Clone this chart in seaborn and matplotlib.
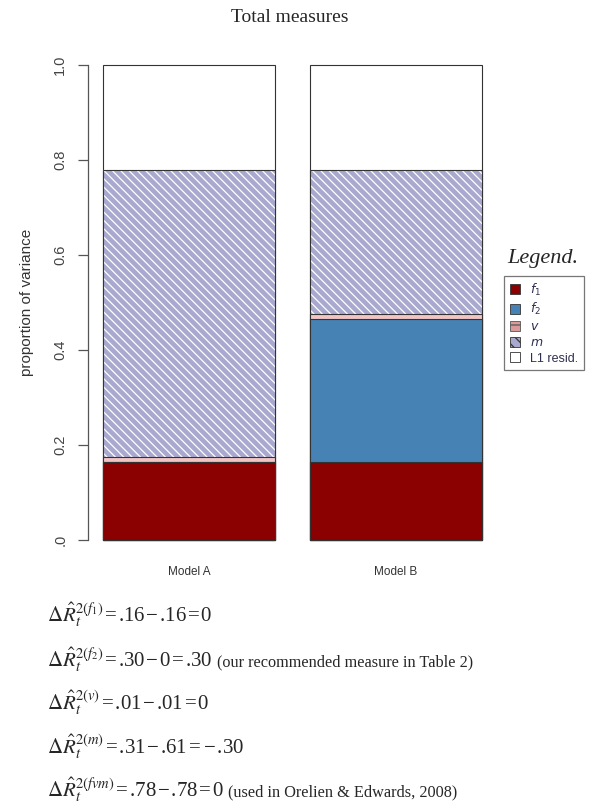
import numpy as np
import pandas as pd
import matplotlib
matplotlib.use("Agg")
import matplotlib.pyplot as plt
import seaborn as sns
from matplotlib.patches import Patch

# data
models = ["Model A", "Model B"]
f1 = [0.165, 0.165]
f2 = [0.0, 0.30]
v = [0.01, 0.01]
m = [0.605, 0.305]
resid = [0.22, 0.22]

components = ["f1", "f2", "v", "m", "resid"]
colors = {"f1": "#8b0000", "f2": "#4682b4", "v": "#f2c4c4", "m": "#a9a9cf", "resid": "white"}
legend_labels = [r"$f_1$", r"$f_2$", r"$v$", r"$m$", "L1 resid."]

equations = [
    (r"$\Delta\hat{R}_t^{2(f_1)}$", "=.16\u2212.16=0", ""),
    (r"$\Delta\hat{R}_t^{2(f_2)}$", "=.30\u22120=.30", "(our recommended measure in Table 2)"),
    (r"$\Delta\hat{R}_t^{2(v)}$", "=.01\u2212.01=0", ""),
    (r"$\Delta\hat{R}_t^{2(m)}$", "=.31\u2212.61=\u2212.30", ""),
    (r"$\Delta\hat{R}_t^{2(fvm)}$", "=.78\u2212.78=0", "(used in Orelien & Edwards, 2008)"),
]

df = pd.DataFrame({"model": models, "f1": f1, "f2": f2, "v": v, "m": m, "resid": resid})
cum = df[components].cumsum(axis=1)
df_cum = pd.concat([df[["model"]], cum], axis=1)

sns.set_style("white")
plt.rcParams["font.family"] = ["Liberation Sans", "DejaVu Sans"]
plt.rcParams["mathtext.fontset"] = "stix"
plt.rcParams["hatch.linewidth"] = 0.9

fig = plt.figure(figsize=(5.91, 8.06), dpi=100)
ax = fig.add_axes([88 / 591, 1 - 540 / 806, (490 - 88) / 591, (540 - 65) / 806])

W = 0.83
# draw cumulative layers from the top down so lower segments sit on top
for comp in components[::-1]:
    if comp == "m":
        sns.barplot(data=df_cum, x="model", y=comp, color=colors[comp], width=W,
                    edgecolor="white", linewidth=0, hatch="\\\\\\\\", ax=ax,
                    saturation=1, errorbar=None)
        sns.barplot(data=df_cum, x="model", y=comp, width=W, fill=False,
                    edgecolor="#333333", linewidth=0.8, ax=ax, errorbar=None)
    else:
        sns.barplot(data=df_cum, x="model", y=comp, color=colors[comp], width=W,
                    edgecolor="#333333", linewidth=0.8, ax=ax, saturation=1,
                    errorbar=None)

for p in ax.patches:
    p.set_clip_on(False)

ax.set_xlim(-0.488, 1.454)
ax.set_ylim(0, 1)
for s in ["top", "right", "bottom"]:
    ax.spines[s].set_visible(False)
ax.spines["left"].set_color("#555555")
ax.spines["left"].set_linewidth(0.9)
ax.set_yticks([0, 0.2, 0.4, 0.6, 0.8, 1.0])
ax.set_yticklabels([".0", "0.2", "0.4", "0.6", "0.8", "1.0"], rotation=90,
                   va="center", color="#444444", fontsize=10.5)
ax.tick_params(axis="y", length=7, width=0.9, color="#555555", pad=8, left=True)
ax.tick_params(axis="x", length=0, pad=19, labelsize=8.5, labelcolor="#333333")
ax.set_xlabel("")
ax.set_ylabel("proportion of variance", fontsize=11, color="#333333", labelpad=14)

fig.text(290 / 591, 1 - 18 / 806, "Total measures", ha="center", va="center",
         family="Liberation Serif", fontsize=14)

# legend
fig.text(543 / 591, 1 - 258 / 806, "Legend.", ha="center", va="center",
         family="Liberation Serif", style="italic", fontsize=16)
handles = []
for comp in components:
    if comp == "m":
        handles.append(Patch(facecolor=colors[comp], edgecolor="#333333", hatch="\\\\\\", linewidth=0.6))
    elif comp == "v":
        handles.append(Patch(facecolor="#d99a9a", edgecolor="#555555", hatch="-", linewidth=0.6))
    else:
        handles.append(Patch(facecolor=colors[comp], edgecolor="#333333", linewidth=0.6))
leg = fig.legend(handles, legend_labels, loc="upper left",
                 bbox_to_anchor=(504 / 591, 1 - 276 / 806), fontsize=9,
                 frameon=True, fancybox=False, edgecolor="#555555",
                 handlelength=0.85, handleheight=0.85, handletextpad=0.8,
                 labelspacing=0.28, borderpad=0.45, borderaxespad=0)
leg.get_frame().set_linewidth(0.9)
for t in leg.get_texts():
    t.set_color("#2f3050")
    t.set_math_fontfamily("dejavusans")

# equations underneath (hair spaces around the operators)
baselines = [622, 667, 710, 754, 797]
for (lhs, rhs, note), yb in zip(equations, baselines):
    rhs = rhs.replace("=", "\u200a=\u200a").replace("\u2212", "\u200a\u2212\u200a")
    t = fig.text(47 / 591, 1 - yb / 806, lhs + rhs, fontsize=15, va="baseline",
                 ha="left", family=["Liberation Serif", "DejaVu Serif"])
    if note:
        plt.annotate(note, xy=(1, 0), xycoords=t, xytext=(3, 3), textcoords="offset points",
                     va="bottom", ha="left", family="Liberation Serif", fontsize=11.7)

fig.savefig("out.png", dpi=100)
